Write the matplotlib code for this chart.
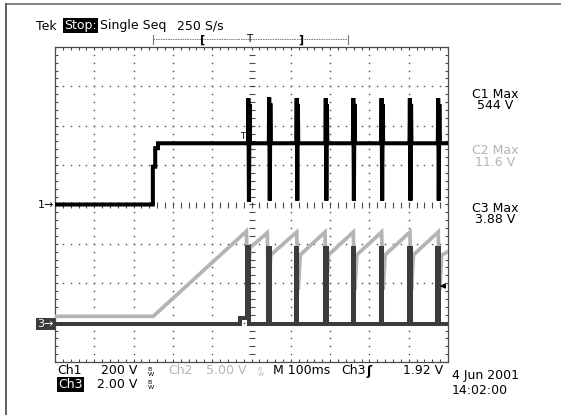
import matplotlib
matplotlib.use("Agg")
import matplotlib.pyplot as plt
import numpy as np
from matplotlib.lines import Line2D

# ---------------- acquisition settings ----------------
ms_per_div = 100
ch1_volts_per_div = 200.0
ch2_volts_per_div = 5.0
ch3_volts_per_div = 2.0
ch1_ground_div = 0.0
ch2_ground_div = -3.0
ch3_ground_div = -3.03
trigger_level_v = 1.92

# ---------------- Channel 1 (V) ----------------
ch1_start_t = [-500, -251, -251, -245, -245, -238, -238]
ch1_start_v = [0, 0, 192, 192, 286, 286, 311]
ch1_level_v = 311
ch1_spike_t = [-8, 45, 115, 189, 259, 331, 403, 475]
ch1_spike_max = [540, 544, 541, 540, 541, 540, 541, 540]
ch1_spike_min = [15, 20, 20, 20, 20, 20, 20, 20]

# ---------------- Channel 2 (V) ----------------
ch2_start_t = [-500, -250]
ch2_start_v = [0.8, 0.8]
ch2_peak_t = [-13, 40, 115, 187, 259, 331, 403, 475]
ch2_peak_v = [11.6, 11.4, 11.5, 11.5, 11.5, 11.5, 11.5, 11.5]
ch2_dip_v = [5.0, 4.2, 4.2, 4.2, 4.2, 4.2, 4.2, 4.2]
ch2_restart_v = [9.5, 8.6, 8.6, 8.6, 8.6, 8.6, 8.6, 8.6]
ch2_end_v = 9.0

# ---------------- Channel 3 (V) ----------------
ch3_start_t = [-500, -29, -29]
ch3_start_v = [0.0, 0.0, 0.3]
ch3_rise_t = [-11, 43, 113, 187, 257, 329, 401, 473]
ch3_fall_t = [-6, 47, 117, 191, 261, 333, 405, 477]
ch3_high_v = [3.88, 3.85, 3.85, 3.85, 3.85, 3.85, 3.85, 3.85]

# ---------------- readout labels ----------------
meas_labels = ["C1 Max", "C2 Max", "C3 Max"]
meas_values = ["544 V", "11.6 V", "3.88 V"]
date_text = "4 Jun 2001"
time_text = "14:02:00"

W, H = 561, 415
fig = plt.figure(figsize=(W / 100, H / 100), dpi=100)
fig.patch.set_facecolor("white")
plt.rcParams["font.family"] = ["DejaVu Sans"]

def fx(px):
    return px / W

def fy(py):
    return 1 - py / H

LIGHT = "#b4b4b4"
DARK3 = "#3c3c3c"
GRAT = "#4a4a4a"

# window frame
fig.add_artist(Line2D([fx(6), 1], [fy(4), fy(4)], color="#7a7a7a", lw=1.3,
                      transform=fig.transFigure))
fig.add_artist(Line2D([fx(6), fx(6)], [fy(4), 0], color="#555555", lw=1.3,
                      transform=fig.transFigure))

ax = fig.add_axes([fx(55), fy(362), 393 / W, 315 / H])
ax.set_xlim(-5 * ms_per_div, 5 * ms_per_div)
ax.set_ylim(-4, 4)
ax.set_xticks([])
ax.set_yticks([])
for s in ax.spines.values():
    s.set_color(GRAT)
    s.set_linewidth(0.9)

# ---------------- graticule ----------------
fine_x = np.arange(-500, 500.1, 20)
fine_y = np.arange(-4, 4.01, 0.2)
for k in range(-4, 5):
    if k == 0:
        continue
    xv = k * ms_per_div
    ax.plot(np.full_like(fine_y, xv), fine_y, ls="none", marker="s",
            ms=1.0, mew=0, color=GRAT, zorder=1)
for k in range(-3, 4):
    if k == 0:
        continue
    ax.plot(fine_x, np.full_like(fine_x, k), ls="none", marker="s",
            ms=1.0, mew=0, color=GRAT, zorder=1)
# center cross with minor ticks
ax.plot(np.zeros_like(fine_y), fine_y, ls="none", marker="_", ms=4,
        mew=0.8, color=GRAT, zorder=1)
ax.plot(fine_x, np.zeros_like(fine_x), ls="none", marker="|", ms=4,
        mew=0.8, color=GRAT, zorder=1)
# edge ticks
for yv in (-4, 4):
    ax.plot(fine_x, np.full_like(fine_x, yv), ls="none", marker="|", ms=5,
            mew=0.8, color=GRAT, zorder=1)
for xv in (-500, 500):
    ax.plot(np.full_like(fine_y, xv), fine_y, ls="none", marker="_", ms=5,
            mew=0.8, color=GRAT, zorder=1)

# ---------------- build traces ----------------
t1 = list(ch1_start_t)
v1 = list(ch1_start_v)
for t, vmax, vmin in zip(ch1_spike_t, ch1_spike_max, ch1_spike_min):
    t1 += [t - 1, t, t + 1.5, t + 3, t + 4]
    v1 += [ch1_level_v, vmax, vmin, vmax - 30, ch1_level_v]
t1.append(500)
v1.append(ch1_level_v)

t2 = list(ch2_start_t)
v2 = list(ch2_start_v)
for t, vp, vd, vr in zip(ch2_peak_t, ch2_peak_v, ch2_dip_v, ch2_restart_v):
    t2 += [t, t + 4, t + 9]
    v2 += [vp, vd, vr]
t2.append(500)
v2.append(ch2_end_v)

t3 = list(ch3_start_t)
v3 = list(ch3_start_v)
for tr, tf, vh in zip(ch3_rise_t, ch3_fall_t, ch3_high_v):
    t3 += [tr, tr, tf, tf]
    v3 += [v3[-1], vh, vh, 0.0]
t3.append(500)
v3.append(0.0)

y1 = ch1_ground_div + np.array(v1) / ch1_volts_per_div
y2 = ch2_ground_div + np.array(v2) / ch2_volts_per_div
y3 = ch3_ground_div + np.array(v3) / ch3_volts_per_div

ax.plot(t2, y2, color=LIGHT, lw=2.7, solid_joinstyle="miter", zorder=3)
ax.plot(t3, y3, color=DARK3, lw=2.9, solid_joinstyle="miter", zorder=4)
ax.plot(t1, y1, color="black", lw=2.9, solid_joinstyle="miter", zorder=5)

# trigger point marker on channel 1 and trigger level marker
ax.text(-22, ch1_ground_div + ch1_level_v / ch1_volts_per_div + 0.05, "T",
        fontsize=6, ha="center", va="bottom", color="black", zorder=6)
trig_y = ch3_ground_div + trigger_level_v / ch3_volts_per_div
ax.annotate("", xy=(472, trig_y), xytext=(500, trig_y),
            arrowprops=dict(arrowstyle="-|>", color="black", lw=1.0,
                            mutation_scale=7), zorder=6)

# ground markers at left
fig.text(fx(54), fy(204.6), "1\u2192", fontsize=8, ha="right", va="center",
         color="black")
fig.text(fx(54), fy(324), "3\u2192", fontsize=8, ha="right", va="center",
         color="white",
         bbox=dict(boxstyle="square,pad=0.12", fc=DARK3, ec="none"))

# ---------------- header ----------------
FS = 9
fig.text(fx(36), fy(26), "Tek", fontsize=FS, ha="left", va="center")
fig.text(fx(64), fy(26), "Stop:", fontsize=FS, ha="left", va="center",
         color="white", bbox=dict(boxstyle="square,pad=0.08", fc="black",
                                  ec="none"))
fig.text(fx(100), fy(26), "Single Seq", fontsize=FS, ha="left", va="center")
fig.text(fx(177), fy(26), "250 S/s", fontsize=FS, ha="left", va="center")

# record position bar
fig.add_artist(Line2D([fx(152.7), fx(348)], [fy(39), fy(39)], color="#777777",
                      lw=0.7, ls=(0, (1.5, 1)), transform=fig.transFigure))
for px in (152.7, 348):
    fig.add_artist(Line2D([fx(px), fx(px)], [fy(35), fy(44)], color="#777777",
                          lw=0.8, transform=fig.transFigure))
fig.text(fx(203), fy(40), "[", fontsize=8, ha="center", va="center",
         fontweight="bold")
fig.text(fx(301), fy(40), "]", fontsize=8, ha="center", va="center",
         fontweight="bold")
fig.text(fx(249), fy(39.5), "T", fontsize=7.5, ha="center", va="center")

# ---------------- measurement readouts ----------------
for i, (lab, val) in enumerate(zip(meas_labels, meas_values)):
    col = LIGHT if i == 1 else "black"
    yc = 94 + i * 57
    fig.text(fx(495), fy(yc), lab, fontsize=FS, ha="center", va="center",
             color=col)
    fig.text(fx(495), fy(yc + 11.5), val, fontsize=FS, ha="center",
             va="center", color=col)

# ---------------- footer ----------------
def bw(px, py, col):
    fig.text(fx(px), fy(py - 2), "B", fontsize=4.5, ha="center", va="center",
             color=col)
    fig.text(fx(px + 2), fy(py + 3), "W", fontsize=4.5, ha="center",
             va="center", color=col)

r1, r2 = 371, 384
fig.text(fx(57), fy(r1), "Ch1", fontsize=FS, ha="left", va="center")
fig.text(fx(137), fy(r1), "200 V", fontsize=FS, ha="right", va="center")
bw(149, r1, "black")
fig.text(fx(168), fy(r1), "Ch2", fontsize=FS, ha="left", va="center",
         color=LIGHT)
fig.text(fx(246), fy(r1), "5.00 V", fontsize=FS, ha="right", va="center",
         color=LIGHT)
bw(259, r1, LIGHT)
fig.text(fx(273), fy(r1), "M 100ms", fontsize=FS, ha="left", va="center")
fig.text(fx(341), fy(r1), "Ch3", fontsize=FS, ha="left", va="center")
fig.text(fx(369), fy(r1), "\u0283", fontsize=FS, ha="center", va="center",
         fontweight="bold")
fig.text(fx(443), fy(r1), "1.92 V", fontsize=FS, ha="right", va="center")
fig.text(fx(58), fy(r2), "Ch3", fontsize=FS, ha="left", va="center",
         color="white", bbox=dict(boxstyle="square,pad=0.08", fc="black",
                                  ec="none"))
fig.text(fx(137), fy(r2), "2.00 V", fontsize=FS, ha="right", va="center")
bw(149, r2, "black")
fig.text(fx(452), fy(375), date_text, fontsize=FS, ha="left", va="center")
fig.text(fx(452), fy(390), time_text, fontsize=FS, ha="left", va="center")

fig.savefig("out.png", dpi=100, facecolor="white")
